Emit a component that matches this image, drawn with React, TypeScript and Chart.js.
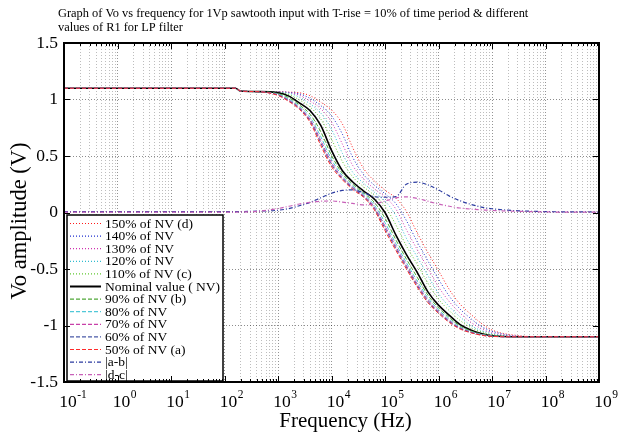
import React, { useEffect, useRef } from 'react';
import { Chart, registerables } from 'chart.js';

Chart.register(...registerables);

const FONT = '"Liberation Serif", "Times New Roman", serif';

const titleLines = [
  'Graph of Vo vs frequency for 1Vp sawtooth input with T-rise = 10% of time period & different',
  'values of R1 for LP filter',
];
const xAxisTitle = 'Frequency (Hz)';
const yAxisTitle = 'Vo amplitude (V)';

const xTickExponents = [-1, 0, 1, 2, 3, 4, 5, 6, 7, 8, 9];
const xMinorMultipliers = [2, 3, 4, 5, 6, 7, 8, 9];
const yTickValues = [-1.5, -1, -0.5, 0, 0.5, 1, 1.5];

const freqHz = [0.1, 1, 10, 100, 160, 200, 400, 1000, 1600, 2500, 4000, 6300, 1e4, 1.6e4, 2.5e4, 4e4, 6.3e4, 1e5, 1.6e5, 2.5e5, 4e5, 6.3e5, 1e6, 1.6e6, 2.5e6, 4e6, 6.3e6, 1e7, 3.2e7, 1e8, 1e9];

const nv150 = [1.10, 1.10, 1.10, 1.10, 1.10, 1.075, 1.07, 1.07, 1.065, 1.06, 1.033, 0.976, 0.907, 0.783, 0.572, 0.388, 0.28, 0.198, 0.127, 0.012, -0.18, -0.353, -0.514, -0.683, -0.808, -0.90, -0.98, -1.04, -1.09, -1.10, -1.10];
const nv140 = [1.10, 1.10, 1.10, 1.10, 1.10, 1.075, 1.07, 1.068, 1.063, 1.05, 1.009, 0.946, 0.855, 0.693, 0.487, 0.335, 0.242, 0.166, 0.078, -0.07, -0.26, -0.426, -0.59, -0.742, -0.852, -0.938, -1.008, -1.05, -1.095, -1.10, -1.10];
const nv130 = [1.10, 1.10, 1.10, 1.10, 1.10, 1.075, 1.07, 1.066, 1.061, 1.038, 0.985, 0.918, 0.80, 0.605, 0.415, 0.295, 0.21, 0.138, 0.03, -0.15, -0.328, -0.49, -0.658, -0.79, -0.888, -0.97, -1.028, -1.063, -1.098, -1.10, -1.10];
const nv120 = [1.10, 1.10, 1.10, 1.10, 1.10, 1.075, 1.07, 1.064, 1.055, 1.021, 0.96, 0.88, 0.737, 0.523, 0.355, 0.258, 0.18, 0.102, -0.03, -0.226, -0.394, -0.556, -0.718, -0.834, -0.922, -0.998, -1.045, -1.073, -1.10, -1.10, -1.10];
const nv110 = [1.10, 1.10, 1.10, 1.10, 1.10, 1.075, 1.07, 1.062, 1.044, 0.997, 0.932, 0.828, 0.649, 0.451, 0.315, 0.226, 0.152, 0.054, -0.11, -0.294, -0.458, -0.624, -0.766, -0.87, -0.954, -1.018, -1.057, -1.081, -1.10, -1.10, -1.10];
const nvNominal = [1.10, 1.10, 1.10, 1.10, 1.10, 1.075, 1.07, 1.06, 1.03, 0.97, 0.90, 0.77, 0.55, 0.37, 0.27, 0.19, 0.12, 0.00, -0.20, -0.37, -0.53, -0.70, -0.82, -0.91, -0.99, -1.04, -1.07, -1.09, -1.10, -1.10, -1.10];
const nv90 = [1.10, 1.10, 1.10, 1.10, 1.10, 1.075, 1.07, 1.052, 1.015, 0.952, 0.868, 0.715, 0.505, 0.345, 0.25, 0.172, 0.09, -0.05, -0.243, -0.41, -0.573, -0.73, -0.843, -0.93, -1.003, -1.048, -1.075, -1.092, -1.10, -1.10, -1.10];
const nv80 = [1.10, 1.10, 1.10, 1.10, 1.10, 1.075, 1.07, 1.047, 1.003, 0.939, 0.842, 0.671, 0.469, 0.325, 0.234, 0.159, 0.066, -0.09, -0.277, -0.442, -0.607, -0.754, -0.86, -0.946, -1.013, -1.054, -1.079, -1.094, -1.10, -1.10, -1.10];
const nv70 = [1.10, 1.10, 1.10, 1.10, 1.10, 1.075, 1.07, 1.042, 0.994, 0.928, 0.822, 0.638, 0.442, 0.31, 0.222, 0.148, 0.048, -0.12, -0.302, -0.466, -0.632, -0.772, -0.874, -0.958, -1.02, -1.058, -1.082, -1.095, -1.10, -1.10, -1.10];
const nv60 = [1.10, 1.10, 1.10, 1.10, 1.10, 1.075, 1.07, 1.039, 0.988, 0.921, 0.809, 0.616, 0.424, 0.30, 0.214, 0.141, 0.036, -0.14, -0.319, -0.482, -0.646, -0.784, -0.883, -0.966, -1.025, -1.061, -1.084, -1.096, -1.10, -1.10, -1.10];
const nv50 = [1.10, 1.10, 1.10, 1.10, 1.10, 1.075, 1.07, 1.036, 0.982, 0.914, 0.796, 0.594, 0.406, 0.29, 0.204, 0.134, 0.024, -0.16, -0.336, -0.498, -0.66, -0.796, -0.892, -0.974, -1.03, -1.064, -1.086, -1.097, -1.10, -1.10, -1.10];
const absAB = [0.008, 0.008, 0.008, 0.008, 0.008, 0.008, 0.012, 0.02, 0.035, 0.06, 0.09, 0.13, 0.17, 0.195, 0.20, 0.175, 0.14, 0.135, 0.14, 0.25, 0.268, 0.245, 0.20, 0.145, 0.105, 0.072, 0.048, 0.033, 0.015, 0.008, 0.004];
const absDC = [0.004, 0.004, 0.004, 0.004, 0.004, 0.005, 0.01, 0.035, 0.055, 0.075, 0.09, 0.10, 0.102, 0.092, 0.08, 0.068, 0.075, 0.10, 0.13, 0.138, 0.125, 0.10, 0.075, 0.055, 0.04, 0.03, 0.024, 0.018, 0.01, 0.005, 0.003];

const seriesLabels = [
  '150% of NV (d)', '140% of NV', '130% of NV', '120% of NV', '110% of NV (c)',
  'Nominal value ( NV)', '90% of NV (b)', '80% of NV', '70% of NV', '60% of NV', '50% of NV (a)',
  '|a-b|', '|d-c|',
];
const seriesValues = [nv150, nv140, nv130, nv120, nv110, nvNominal, nv90, nv80, nv70, nv60, nv50, absAB, absDC];

const DOT = [1, 2];
const DASH = [4, 2];
const DASHDOT = [4, 2, 1, 2];
const seriesStyles = [
  { color: '#ff1a1a', dash: DOT, width: 1 },
  { color: '#1f2fd0', dash: DOT, width: 1 },
  { color: '#d030b0', dash: DOT, width: 1 },
  { color: '#30bcd0', dash: DOT, width: 1 },
  { color: '#60c830', dash: DOT, width: 1 },
  { color: '#000000', dash: [], width: 1.6 },
  { color: '#50a838', dash: DASH, width: 1 },
  { color: '#50c8d8', dash: DASH, width: 1 },
  { color: '#c840a8', dash: DASH, width: 1 },
  { color: '#4a5aa8', dash: DASH, width: 1 },
  { color: '#ff2a2a', dash: DASH, width: 1 },
  { color: '#2a3aa0', dash: DASHDOT, width: 1.2 },
  { color: '#c860b8', dash: DASHDOT, width: 1.2 },
];

const decorPlugin = {
  id: 'decor',
  afterDatasetsDraw(chart: any) {
    const { ctx, chartArea: a, scales } = chart;
    const xs = scales.x;
    const ys = scales.y;
    ctx.save();

    // legend
    const lx = 67, ly = 215, lw = 156, lh = 166;
    ctx.fillStyle = '#fff';
    ctx.fillRect(lx, ly, lw, lh);
    ctx.strokeStyle = '#000';
    ctx.lineWidth = 1.5;
    ctx.strokeRect(lx, ly, lw, lh);
    ctx.font = `13.5px ${FONT}`;
    ctx.textBaseline = 'middle';
    ctx.textAlign = 'left';
    chart.data.datasets.forEach((ds: any, i: number) => {
      const y = 223.5 + i * 12.6;
      ctx.save();
      ctx.strokeStyle = ds.borderColor;
      ctx.lineWidth = ds.borderWidth > 1.3 ? 2 : 1.2;
      ctx.setLineDash(ds.borderDash || []);
      ctx.beginPath();
      ctx.moveTo(70, y);
      ctx.lineTo(101, y);
      ctx.stroke();
      ctx.restore();
      ctx.fillStyle = '#000';
      ctx.fillText(ds.label, 105, y + 0.5);
    });

    // tick marks
    ctx.strokeStyle = '#000';
    ctx.lineWidth = 1;
    ctx.setLineDash([]);
    ctx.beginPath();
    xTickExponents.forEach((e, idx) => {
      const px = Math.round(xs.getPixelForValue(Math.pow(10, e))) + 0.5;
      ctx.moveTo(px, a.bottom); ctx.lineTo(px, a.bottom - 6);
      ctx.moveTo(px, a.top); ctx.lineTo(px, a.top + 6);
      if (idx < xTickExponents.length - 1) {
        xMinorMultipliers.forEach((m) => {
          const mx = Math.round(xs.getPixelForValue(m * Math.pow(10, e))) + 0.5;
          ctx.moveTo(mx, a.bottom); ctx.lineTo(mx, a.bottom - 3);
          ctx.moveTo(mx, a.top); ctx.lineTo(mx, a.top + 3);
        });
      }
    });
    yTickValues.forEach((v) => {
      const py = Math.round(ys.getPixelForValue(v)) + 0.5;
      ctx.moveTo(a.left, py); ctx.lineTo(a.left + 6, py);
      ctx.moveTo(a.right, py); ctx.lineTo(a.right - 6, py);
    });
    ctx.stroke();

    // frame
    ctx.lineWidth = 2;
    ctx.strokeRect(a.left, a.top, a.right - a.left, a.bottom - a.top);

    // x tick labels with superscript exponents
    ctx.fillStyle = '#000';
    ctx.textBaseline = 'alphabetic';
    xTickExponents.forEach((e) => {
      const px = xs.getPixelForValue(Math.pow(10, e));
      ctx.font = `17.5px ${FONT}`;
      const wb = ctx.measureText('10').width;
      const bx = px + 4 - wb / 2;
      ctx.fillText('10', bx, 407);
      ctx.font = `11.5px ${FONT}`;
      ctx.fillText(String(e), bx + wb + 0.5, 398);
    });

    // axis titles
    ctx.textAlign = 'center';
    ctx.textBaseline = 'middle';
    ctx.font = `21px ${FONT}`;
    ctx.fillText(xAxisTitle, (a.left + a.right) / 2 + 14, 421);
    ctx.save();
    ctx.font = `22.5px ${FONT}`;
    ctx.translate(20, 221);
    ctx.rotate(-Math.PI / 2);
    ctx.fillText(yAxisTitle, 0, 0);
    ctx.restore();

    // chart title
    ctx.font = `12.4px ${FONT}`;
    ctx.textAlign = 'left';
    titleLines.forEach((t, i) => ctx.fillText(t, 58, 14 + i * 14));

    ctx.restore();
  },
};

export default function App() {
  const ref = useRef<HTMLCanvasElement>(null);
  useEffect(() => {
    document.body.style.margin = '0';
    const canvas = ref.current;
    if (!canvas) return;
    const n = seriesLabels.length;
    const datasets = seriesLabels.map((label, i) => ({
      label,
      data: freqHz.map((f, j) => ({ x: f, y: seriesValues[i][j] })),
      borderColor: seriesStyles[i].color,
      borderWidth: seriesStyles[i].width,
      borderDash: seriesStyles[i].dash,
      pointRadius: 0,
      fill: false,
      cubicInterpolationMode: 'monotone' as const,
      order: n - i,
    }));
    const chart = new Chart(canvas, {
      type: 'line',
      data: { datasets },
      options: {
        responsive: false,
        animation: false,
        devicePixelRatio: 1,
        layout: { padding: { top: 43, right: 21, left: 0, bottom: 0 } },
        plugins: { legend: { display: false }, title: { display: false }, tooltip: { enabled: false } },
        scales: {
          x: {
            type: 'logarithmic',
            min: 0.1,
            max: 1e9,
            afterBuildTicks: (scale: any) => {
              const ticks: any[] = [];
              xTickExponents.forEach((e, idx) => {
                ticks.push({ value: Math.pow(10, e), major: true });
                if (idx < xTickExponents.length - 1) {
                  xMinorMultipliers.forEach((m) => ticks.push({ value: m * Math.pow(10, e), major: false }));
                }
              });
              scale.ticks = ticks;
            },
            afterFit: (scale: any) => { scale.height = 50; },
            ticks: { display: false },
            grid: {
              drawTicks: false,
              color: (c: any) => (c.tick && c.tick.major ? 'rgba(0,0,0,0.42)' : 'rgba(0,0,0,0.26)'),
              lineWidth: 1,
            },
            border: { display: false, dash: [1, 2] },
          },
          y: {
            type: 'linear',
            min: -1.5,
            max: 1.5,
            afterBuildTicks: (scale: any) => {
              scale.ticks = yTickValues.map((v) => ({ value: v }));
            },
            afterFit: (scale: any) => { scale.width = 64; },
            ticks: {
              padding: 6,
              color: '#000',
              font: { family: FONT, size: 17.5 },
              callback: (v: any) => String(v),
            },
            grid: { drawTicks: false, color: 'rgba(0,0,0,0.45)', lineWidth: 1 },
            border: { display: false, dash: [1, 2] },
          },
        },
      },
      plugins: [decorPlugin],
    });
    return () => chart.destroy();
  }, []);
  return (
    <div style={{ width: 620, height: 432 }}>
      <canvas ref={ref} width={620} height={432} style={{ display: 'block' }} />
    </div>
  );
}
